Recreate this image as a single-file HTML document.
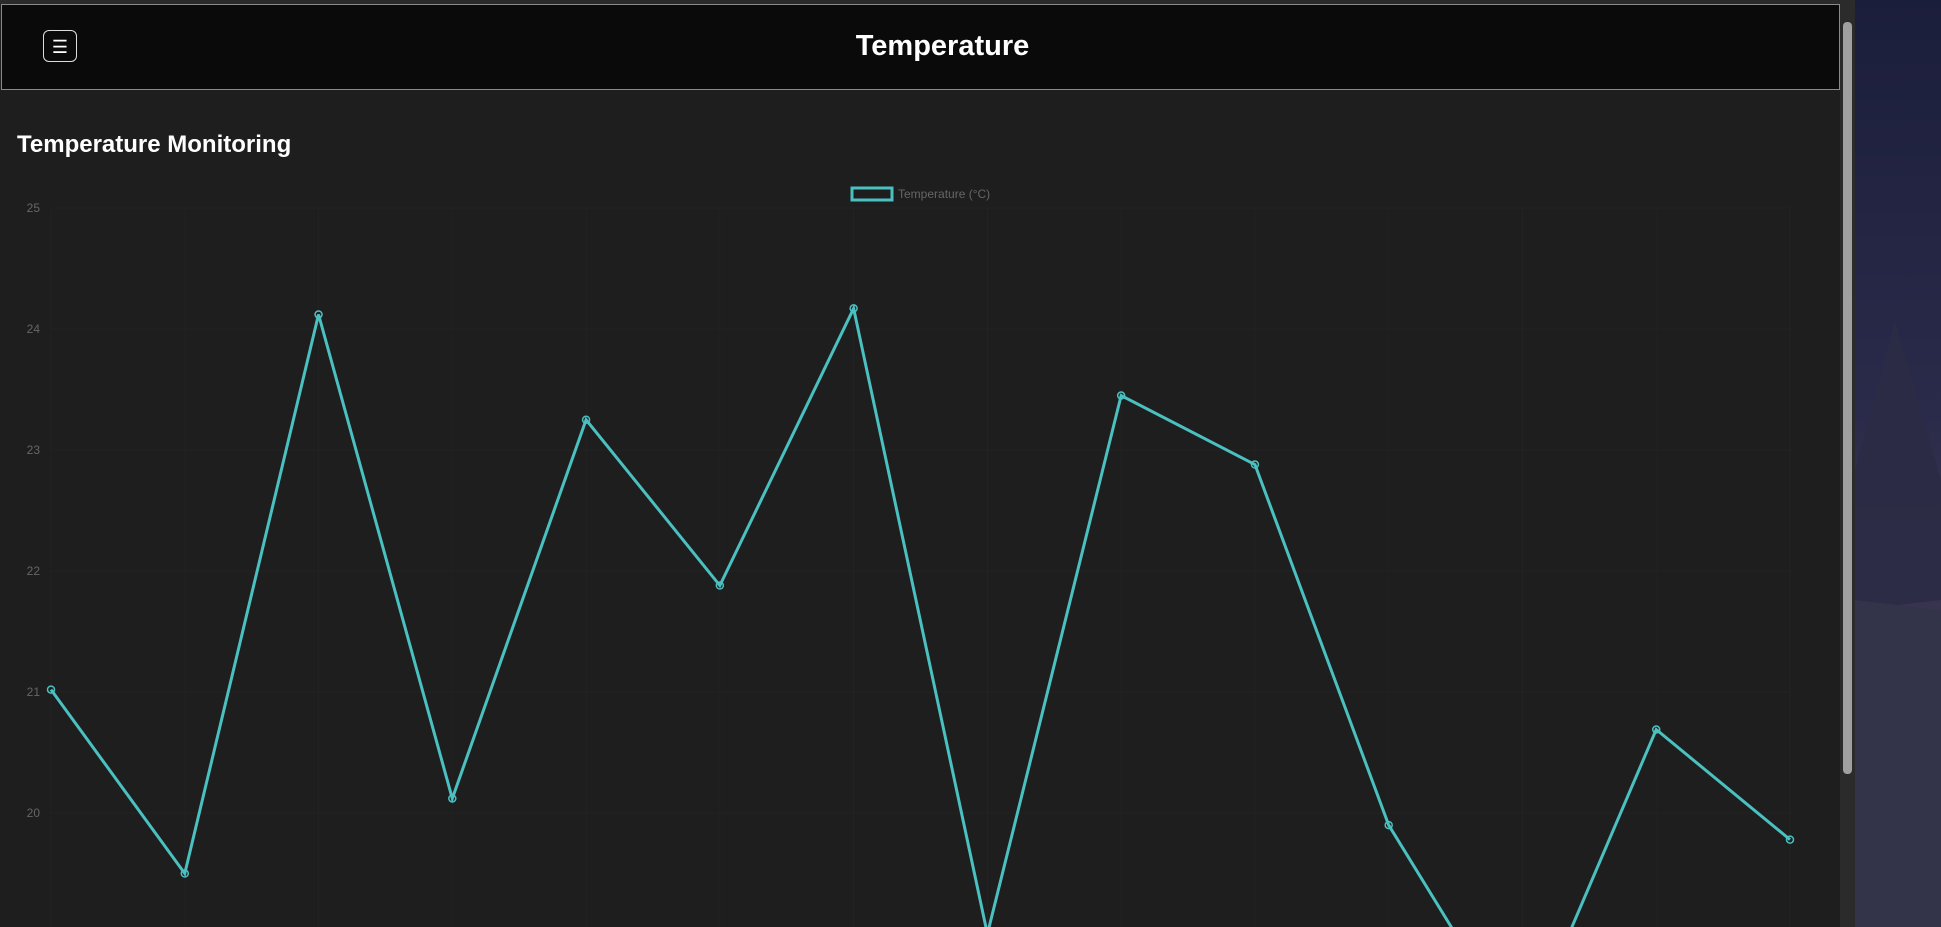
<!DOCTYPE html>
<html><head><meta charset="utf-8"><style>
html,body{margin:0;padding:0;width:1941px;height:927px;overflow:hidden;background:#1e1e1e;font-family:"Liberation Sans",sans-serif}
#bg{position:absolute;left:1855px;top:0;width:86px;height:927px;background:linear-gradient(#1b1e3b,#2a2b4a 45%,#3a3550 60%,#2e2e48)}
#panel{position:absolute;left:0;top:0;width:1840px;height:927px;background:#1e1e1e}
#topstrip{position:absolute;left:0;top:0;width:1840px;height:4px;background:#2a2a2a}
#header{position:absolute;left:1px;top:4px;width:1837px;height:84px;background:#0a0a0a;border:1px solid #8a8a8a}
#menu{position:absolute;left:41px;top:25px;width:34px;height:32px;border:1px solid #ddd;border-radius:6px;color:#fff;font-size:18px;line-height:32px;text-align:center;box-sizing:border-box}
#title{position:absolute;left:22px;width:100%;top:25px;text-align:center;color:#fff;font-weight:bold;font-size:29px}
#sub{position:absolute;left:17px;top:131px;color:#fff;font-weight:bold;font-size:24px}
#scroll{position:absolute;left:1840px;top:0;width:15px;height:927px;background:#2b2b2b}
#thumb{position:absolute;left:1843px;top:22px;width:9px;height:752px;background:#a0a0a0;border-radius:4px}
svg{position:absolute;left:0;top:0}
</style></head><body>
<div id="bg">
<svg width="86" height="927" style="left:0"><polygon points="0,470 40,320 86,480 86,600 0,610" fill="#2b2b45" opacity="0.9"/><polygon points="0,600 86,610 86,927 0,927" fill="#33334a"/></svg></div>
<div id="panel"></div>
<div id="topstrip"></div>
<div id="header">
<div id="menu">☰</div>
<div id="title">Temperature</div></div>
<div id="sub">Temperature Monitoring</div>
<div id="scroll"></div>
<div id="thumb"></div>
<svg id="chart" width="1840" height="927"></svg>
<script>
const labels=["1","2","3","4","5","6","7","8","9","10","11","12","13","14"];
const temps=[21.02,19.5,24.12,20.12,23.25,21.88,24.17,19.0,23.45,22.88,19.9,18.1,20.69,19.78];
const yTicks=[25,24,23,22,21,20,19];
const NS="http://www.w3.org/2000/svg";
const svg=document.getElementById('chart');
const x0=51,x1=1790,yTop=208,pxPerUnit=121;
const xs=i=>x0+(x1-x0)*i/(labels.length-1);
const ys=v=>yTop+(25-v)*pxPerUnit;
function mk(t,a){const e=document.createElementNS(NS,t);for(const k in a)e.setAttribute(k,a[k]);svg.appendChild(e);return e;}
yTicks.forEach(t=>{
 const l=mk('line',{x1:x0,x2:x1,y1:ys(t),y2:ys(t),stroke:'#232323','stroke-width':1});
 
 
 const tx=mk('text',{x:40,y:ys(t)+4,fill:'#666','font-size':12,'text-anchor':'end','font-family':'Liberation Sans'});
 tx.textContent=t;
 
 
});
labels.forEach((c,i)=>{
 const l=mk('line',{x1:xs(i),x2:xs(i),y1:yTop,y2:927,stroke:'#222','stroke-width':1});
 
 
});
const p=mk('polyline',{points:temps.map((v,i)=>xs(i)+','+ys(v)).join(' '),fill:'none',stroke:'#4bc0c0','stroke-width':3});


temps.forEach((v,i)=>{
 const c=mk('circle',{cx:xs(i),cy:ys(v),r:3.5,fill:'none',stroke:'#4bc0c0','stroke-width':1.5});
 
 
});
const lb=mk('rect',{x:852,y:188,width:40,height:12,fill:'none',stroke:'#4bc0c0','stroke-width':3});


const lt=mk('text',{x:898,y:198,fill:'#666','font-size':12,'font-family':'Liberation Sans'});
lt.textContent='Temperature (°C)';


</script>
</body></html>
